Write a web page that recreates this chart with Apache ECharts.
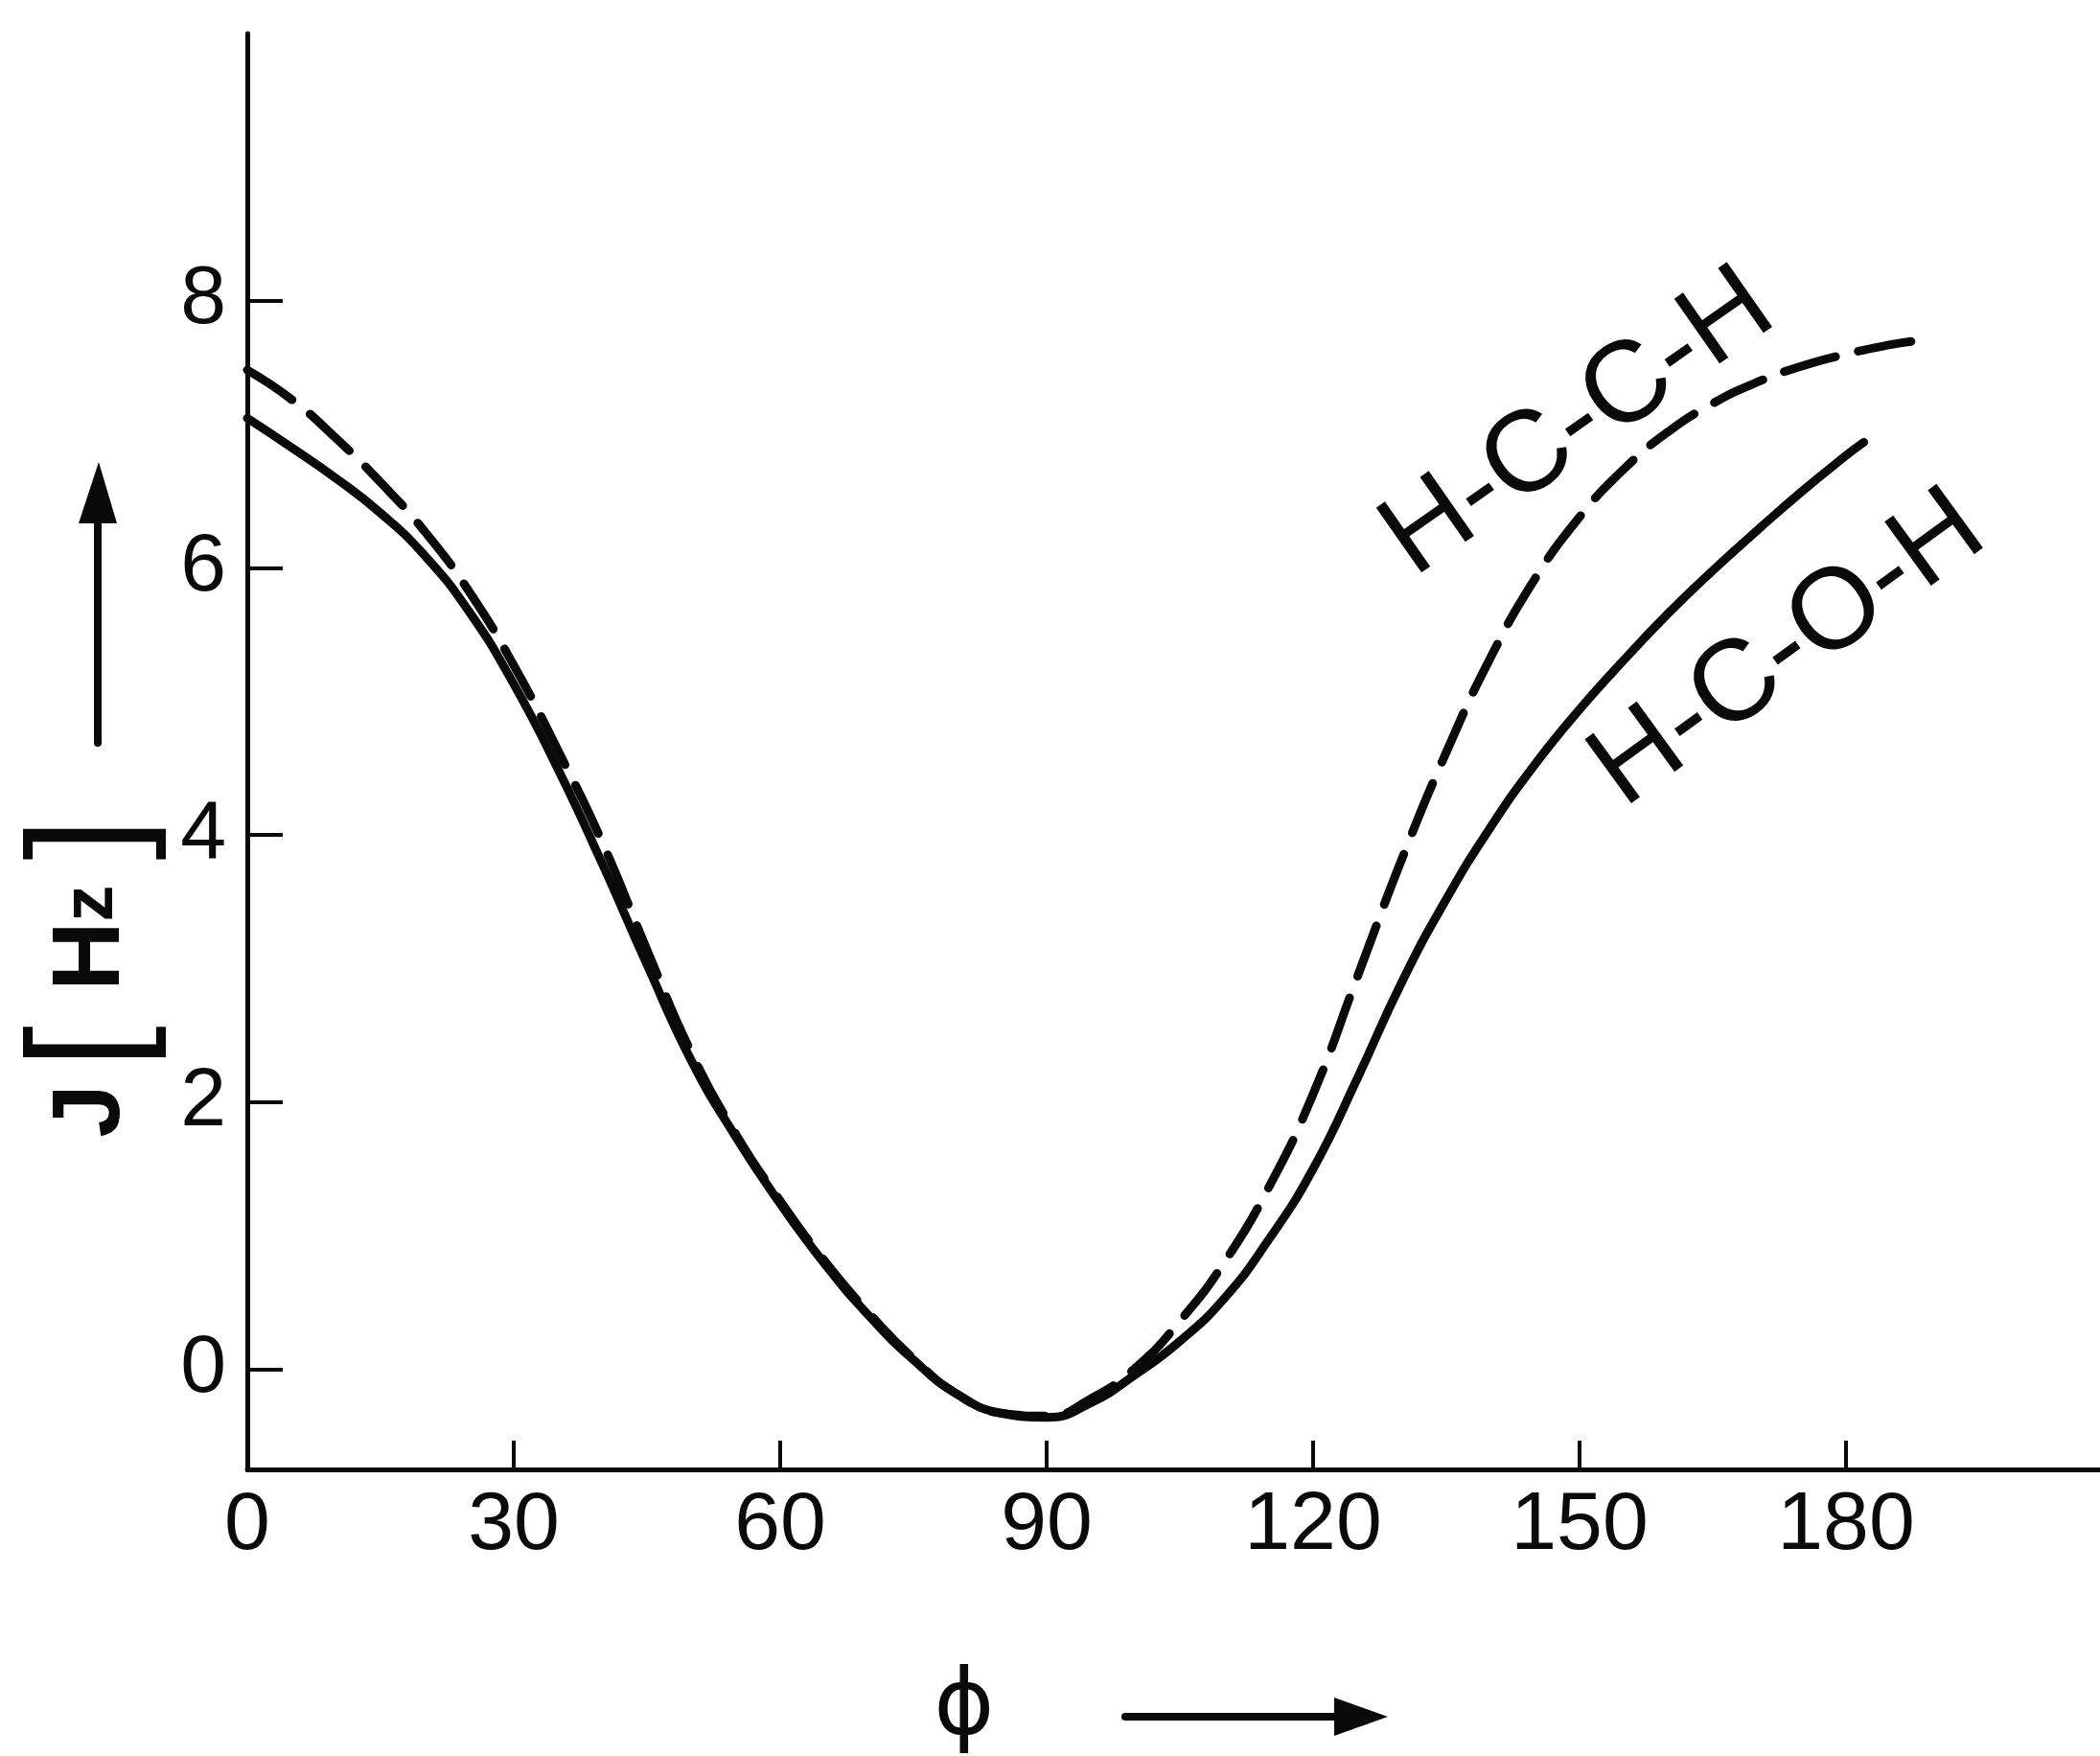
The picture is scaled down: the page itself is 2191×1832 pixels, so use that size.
<!DOCTYPE html>
<html>
<head>
<meta charset="utf-8">
<script src="https://cdn.jsdelivr.net/npm/echarts@6.0.0/dist/echarts.min.js"></script>
<style>
html,body{margin:0;padding:0;background:#ffffff;}
#chart{width:2191px;height:1832px;}
</style>
</head>
<body>
<div id="chart"></div>
<script>
// Dihedral angle phi (degrees) and coupling constant J (Hz)
const hcohPhi = [0,5,10,15,20,25,30,35,40,45,50,55,60,65,70,75,80,85,90,95,100,105,110,115,120,125,130,135,140,145,150,155,160,165,170,175,180,182];
const hcohJ   = [7.12,6.90,6.67,6.41,6.09,5.67,5.13,4.49,3.78,3.03,2.31,1.74,1.24,0.79,0.40,0.07,-0.19,-0.33,-0.36,-0.25,-0.04,0.21,0.53,0.97,1.50,2.18,2.90,3.52,4.06,4.53,4.94,5.31,5.66,5.98,6.28,6.57,6.84,6.94];

const hcchPhi = [0,5,10,15,20,25,30,35,40,45,50,55,60,65,70,75,80,85,90,95,100,105,110,115,120,125,130,135,140,145,150,155,160,165,170,175,180,185,188];
const hcchJ   = [7.48,7.26,6.97,6.64,6.27,5.82,5.27,4.63,3.94,3.14,2.37,1.76,1.26,0.81,0.42,0.08,-0.19,-0.33,-0.35,-0.22,0.01,0.36,0.80,1.36,2.06,2.94,3.82,4.62,5.33,5.92,6.38,6.74,7.02,7.23,7.39,7.51,7.60,7.67,7.70];

const xTickValues = [0,30,60,90,120,150,180];
const xTickMarks  = [30,60,90,120,150,180];
const yTickValues = [0,2,4,6,8];

const seriesNames = ['H-C-O-H','H-C-C-H'];

const chart = echarts.init(document.getElementById('chart'), null, {renderer:'canvas'});

const INK = '#0a0a0a';
const FONT = '"Liberation Sans", "DejaVu Sans", sans-serif';

const option = {
  backgroundColor: '#ffffff',
  animation: false,
  grid: {left: 258, right: 0, top: 35, bottom: 299, containLabel: false},
  xAxis: {
    type: 'value', min: 0, max: 208.6,
    axisLine: {onZero: false, lineStyle: {color: INK, width: 5}},
    axisTick: {show: true, inside: true, length: 30, customValues: xTickMarks, lineStyle: {color: INK, width: 4}},
    axisLabel: {customValues: xTickValues, margin: 16, fontSize: 86, fontFamily: FONT, color: INK},
    splitLine: {show: false}
  },
  yAxis: {
    type: 'value', min: -0.75, max: 10,
    axisLine: {show: true, onZero: false, lineStyle: {color: INK, width: 5, cap: 'round'}},
    axisTick: {show: true, inside: true, length: 37, customValues: yTickValues, lineStyle: {color: INK, width: 4}},
    axisLabel: {customValues: yTickValues, margin: 22, fontSize: 86, fontFamily: FONT, color: INK},
    splitLine: {show: false}
  },
  series: [
    {
      name: seriesNames[0], type: 'line', smooth: 0.5, symbol: 'none', clip: false,
      lineStyle: {color: INK, width: 9, cap: 'round', join: 'round'},
      data: hcohPhi.map((p, i) => [p, hcohJ[i]])
    },
    {
      name: seriesNames[1], type: 'line', smooth: 0.5, symbol: 'none', clip: false,
      lineStyle: {color: INK, width: 9, type: [56, 24], cap: 'round', join: 'round'},
      data: hcchPhi.map((p, i) => [p, hcchJ[i]])
    }
  ],
  graphic: [
    // curve labels
    {type: 'text', x: 1647, y: 442, rotation: 35 * Math.PI / 180,
     style: {text: seriesNames[1], fontSize: 120, fontFamily: FONT, fill: INK,
             align: 'center', verticalAlign: 'middle', textAlign: 'center', textVerticalAlign: 'middle'}},
    {type: 'text', x: 1866, y: 678, rotation: 36 * Math.PI / 180,
     style: {text: seriesNames[0], fontSize: 120, fontFamily: FONT, fill: INK,
             align: 'center', verticalAlign: 'middle', textAlign: 'center', textVerticalAlign: 'middle'}},
    // y-axis title
    {type: 'text', x: 96, y: 1020, rotation: Math.PI / 2,
     style: {text: '{j|J}{s1| }{b|[}{s2| }{h|H}{z|z}{s3| }{b|]}', fontFamily: FONT, fill: INK,
             align: 'center', verticalAlign: 'middle', textAlign: 'center', textVerticalAlign: 'middle',
             rich: {
               j: {fontSize: 100, fontFamily: FONT, fill: INK, color: INK, fontWeight: 'bold'},
               h: {fontSize: 100, fontFamily: FONT, fill: INK, color: INK, fontWeight: 'bold'},
               z: {fontSize: 76, fontFamily: FONT, fill: INK, color: INK, fontWeight: 'bold'},
               b: {fontSize: 160, fontFamily: FONT, fill: INK, color: INK},
               s1: {fontSize: 60, fontFamily: FONT},
               s2: {fontSize: 130, fontFamily: FONT},
               s3: {fontSize: 93, fontFamily: FONT}
             }}},
    // y-axis arrow
    {type: 'line', shape: {x1: 102, y1: 775, x2: 102, y2: 530},
     style: {stroke: INK, lineWidth: 8, lineCap: 'round'}},
    {type: 'polygon', shape: {points: [[103, 482], [82, 546], [122, 546]]},
     style: {fill: INK}},
    // x-axis title
    {type: 'text', x: 1006, y: 1784,
     style: {text: 'ϕ', fontSize: 96, fontFamily: '"DejaVu Sans", sans-serif', fill: INK,
             align: 'center', verticalAlign: 'middle', textAlign: 'center', textVerticalAlign: 'middle'}},
    // x-axis arrow
    {type: 'line', shape: {x1: 1174, y1: 1791, x2: 1405, y2: 1791},
     style: {stroke: INK, lineWidth: 8, lineCap: 'round'}},
    {type: 'polygon', shape: {points: [[1448, 1791], [1392, 1771], [1392, 1811]]},
     style: {fill: INK}}
  ]
};

chart.setOption(option);
</script>
</body>
</html>
